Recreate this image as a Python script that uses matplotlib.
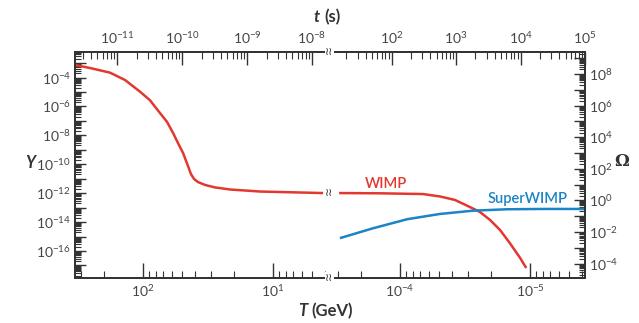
import numpy as np
import matplotlib.pyplot as plt
from matplotlib.ticker import (LogLocator, FixedLocator, NullFormatter,
                               FuncFormatter, LogFormatterMathtext)

plt.rcParams['font.family'] = ['Lato', 'DejaVu Sans']
plt.rcParams['mathtext.fontset'] = 'custom'
plt.rcParams['mathtext.rm'] = 'Lato'
plt.rcParams['mathtext.it'] = 'Lato:italic'
plt.rcParams['mathtext.bf'] = 'Lato:bold'

# WIMP yield, high-temperature side (T in GeV)
T_early = [333.4, 255.9, 179.5, 137.5, 105.4, 88.4, 74.0, 65.3, 58.7, 53.8,
           49.2, 45.1, 42.8, 40.5, 37.8, 33.3, 27.9, 21.4, 12.6, 4.12]
Y_early = [7.4e-4, 4.6e-4, 2.2e-4, 6.8e-5, 1.05e-5, 2.7e-6, 3.5e-7, 8.5e-8,
           1.45e-8, 2.9e-9, 6.0e-10, 7.6e-11, 2.1e-11, 9.6e-12, 5.9e-12,
           3.7e-12, 2.5e-12, 1.8e-12, 1.3e-12, 1.02e-12]

# WIMP yield, low-temperature side (decays away)
T_late = [2.94e-4, 1.43e-4, 6.65e-5, 4.92e-5, 3.78e-5, 2.9e-5, 2.43e-5,
          2.03e-5, 1.70e-5, 1.43e-5, 1.19e-5, 1.07e-5]
Y_late = [1.02e-12, 9.8e-13, 8.7e-13, 5.9e-13, 3.4e-13, 1.1e-13, 5.0e-14,
          1.4e-14, 2.8e-15, 3.5e-16, 3.2e-17, 6.6e-18]

# SuperWIMP relic density
T_swimp = [2.9e-4, 1.61e-4, 8.8e-5, 4.92e-5, 2.74e-5, 1.50e-5, 7.7e-6, 3.78e-6]
Omega_swimp = [4.1e-3, 1.74e-2, 6.5e-2, 0.14, 0.226, 0.277, 0.29, 0.29]

# labelled decades on each axis
T_ticks_hi = [1e2, 1e1]
T_ticks_lo = [1e-4, 1e-5]
t_ticks_hi = [1e-11, 1e-10, 1e-9, 1e-8]
t_ticks_lo = [1e2, 1e3, 1e4, 1e5]

red = '#e2382f'
blue = '#1a84c6'
ink = '#333333'

W, H = 639, 323
fig = plt.figure(figsize=(W / 100, H / 100), dpi=100)
x0, xb, x1 = 75, 328, 585
yt, yb = 52, 278
ax1 = fig.add_axes([x0 / W, 1 - yb / H, (xb - x0) / W, (yb - yt) / H])
ax2 = fig.add_axes([xb / W, 1 - yb / H, (x1 - xb) / W, (yb - yt) / H])
ax1t = ax1.twiny()
ax2t = ax2.twiny()
ax2r = ax2.twinx()

ax1.plot(T_early, Y_early, color=red, lw=1.8, solid_capstyle='butt')
ax2.plot(T_late, Y_late, color=red, lw=1.8, solid_capstyle='butt')
ax2r.plot(T_swimp, Omega_swimp, color=blue, lw=1.8, solid_capstyle='butt')

for ax in (ax1, ax2, ax1t, ax2t, ax2r):
    ax.set_xscale('log')
    ax.set_yscale('log')

ax1.set_xlim(333.4, 3.78)
ax2.set_xlim(3.58e-4, 3.78e-6)
ax1t.set_xlim(2.26e-12, 1.76e-8)
ax2t.set_xlim(10.35, 1e5)
ax1.set_ylim(10**-17.87, 10**-2.23)
ax2.set_ylim(10**-17.87, 10**-2.23)
ax2r.set_ylim(10**-4.91, 10**9.40)


def even_decades(v, pos):
    e = int(round(np.log10(v)))
    return r'$\mathdefault{10^{%d}}$' % e if e % 2 == 0 else ''


def style(ax, axis):
    ax.tick_params(axis=axis, which='major', direction='in', length=8,
                   width=1, color=ink, labelcolor='#444444', labelsize=10,
                   pad=3)
    ax.tick_params(axis=axis, which='minor', direction='in', length=4,
                   width=0.8, color=ink)


major = lambda: LogLocator(base=10, numticks=100)
minor = lambda: LogLocator(base=10, subs=np.arange(2, 10), numticks=100)

# bottom T axes
for ax, ticks in ((ax1, T_ticks_hi), (ax2, T_ticks_lo)):
    ax.xaxis.set_major_locator(FixedLocator(ticks))
    ax.xaxis.set_minor_locator(minor())
    ax.xaxis.set_major_formatter(LogFormatterMathtext())
    ax.xaxis.set_minor_formatter(NullFormatter())
    style(ax, 'x')
    ax.tick_params(axis='x', which='major', length=11, pad=4)
    ax.tick_params(axis='x', which='minor', length=5)

# top t axes
for ax, ticks in ((ax1t, t_ticks_hi), (ax2t, t_ticks_lo)):
    ax.xaxis.set_major_locator(FixedLocator(ticks))
    ax.xaxis.set_minor_locator(minor())
    ax.xaxis.set_major_formatter(LogFormatterMathtext())
    ax.xaxis.set_minor_formatter(NullFormatter())
    style(ax, 'x')
    ax.tick_params(axis='x', which='major', length=9, pad=4)
    ax.tick_params(axis='x', which='minor', length=5)
    ax.tick_params(axis='y', left=False, right=False,
                   labelleft=False, labelright=False, which='both')

# left Y axis
ax1.yaxis.set_major_locator(major())
ax1.yaxis.set_minor_locator(minor())
ax1.yaxis.set_major_formatter(FuncFormatter(even_decades))
ax1.yaxis.set_minor_formatter(NullFormatter())
style(ax1, 'y')

ax2.tick_params(axis='y', which='both', left=False, right=False,
                labelleft=False, labelright=False)

# right Omega axis
ax2r.yaxis.set_major_locator(major())
ax2r.yaxis.set_minor_locator(minor())
ax2r.yaxis.set_major_formatter(FuncFormatter(even_decades))
ax2r.yaxis.set_minor_formatter(NullFormatter())
style(ax2r, 'y')
ax2r.tick_params(axis='x', which='both', bottom=False, top=False,
                 labelbottom=False, labeltop=False)

for ax in (ax1, ax1t):
    ax.spines['right'].set_visible(False)
for ax in (ax2, ax2t, ax2r):
    ax.spines['left'].set_visible(False)
for ax in (ax1, ax2, ax1t, ax2t, ax2r):
    for s in ax.spines.values():
        s.set_color(ink)
        s.set_linewidth(1.3)

# break marks on the frame and on the WIMP curve
for yy in (yt, yb, 193):
    fig.text(xb / W + 0.002, 1 - yy / H, '≀≀', ha='center', va='center',
             fontsize=8, color=ink, family='DejaVu Sans',
             bbox=dict(boxstyle='square,pad=0.05', fc='white', ec='none'))

# axis titles
fig.text(317 / W, 1 - 17 / H, 't', fontsize=12, fontweight='bold',
         fontstyle='italic', color=ink, ha='center', va='center')
fig.text(324 / W, 1 - 17 / H, '(s)', fontsize=12, fontweight='bold',
         color=ink, ha='left', va='center')
fig.text(303 / W, 1 - 311 / H, 'T', fontsize=12, fontweight='bold',
         fontstyle='italic', color=ink, ha='center', va='center')
fig.text(311 / W, 1 - 311 / H, '(GeV)', fontsize=12, fontweight='bold',
         color=ink, ha='left', va='center')
fig.text(30 / W, 1 - 163 / H, 'Y', fontsize=12, fontweight='bold',
         fontstyle='italic', color=ink, ha='center', va='center')
fig.text(622 / W, 1 - 161 / H, 'Ω', fontsize=12, fontweight='bold',
         family='DejaVu Serif', color=ink, ha='center', va='center')

fig.text(386 / W, 1 - 184 / H, 'WIMP', fontsize=10.5, fontweight='semibold',
         color=red, ha='center', va='center')
fig.text(528 / W, 1 - 199 / H, 'SuperWIMP', fontsize=10.5,
         fontweight='semibold', color=blue, ha='center', va='center')

fig.savefig('out.png', dpi=100)
